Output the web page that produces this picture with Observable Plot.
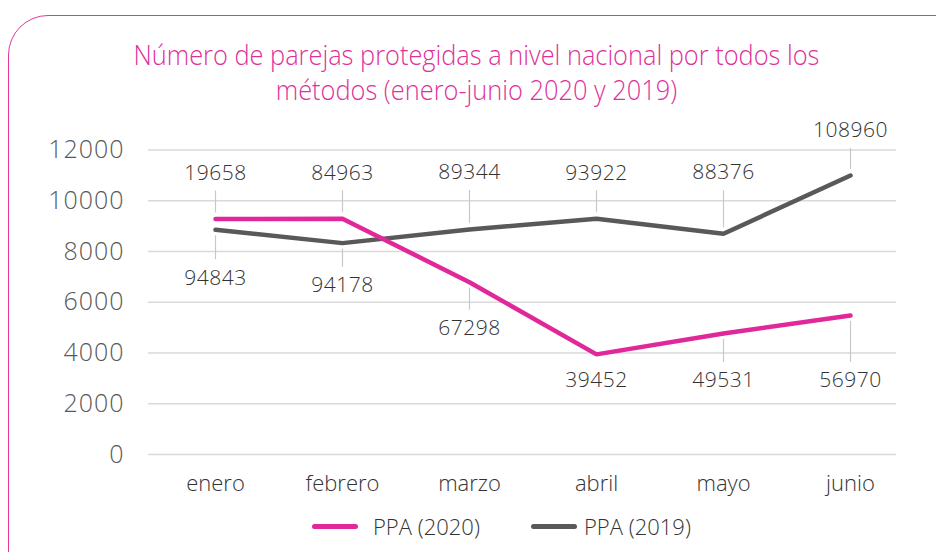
<!DOCTYPE html>
<html>
<head>
<meta charset="utf-8">
<script src="https://cdn.jsdelivr.net/npm/d3@7"></script>
<script src="https://cdn.jsdelivr.net/npm/@observablehq/plot@0.6"></script>
<style>
  html, body { margin: 0; padding: 0; background: #fff; }
  #page { position: relative; width: 936px; height: 552px; overflow: hidden; font-family: "Open Sans", sans-serif; }
  #frame { position: absolute; left: 8px; top: 15px; width: 980px; height: 580px; border: 1.5px solid #e2369c; border-radius: 40px; box-sizing: border-box; }
  #title { position: absolute; left: 8px; top: 37px; width: 936px; text-align: center; color: #e0309a; font-size: 28px; line-height: 35px; font-weight: 300; }
  #title span { display: inline-block; white-space: nowrap; transform-origin: 50% 50%; }
  #chart { position: absolute; left: 0; top: 110px; }
  .leg { position: absolute; top: 511px; font-size: 22px; color: #333333; line-height: 30px; font-weight: 300; }
  .sw { position: absolute; height: 5px; border-radius: 3px; top: 524px; }
  #chart svg text { font-weight: 300; }
  #chart g[aria-label="y-axis tick label"] text { letter-spacing: 1px; }
  #chart g[aria-label="text"] text { letter-spacing: 0.5px; }
</style>
</head>
<body>
<div id="page">
  <div id="frame"></div>
  <div id="title"><span id="t1">Número de parejas protegidas a nivel nacional por todos los</span><br><span id="t2">métodos (enero-junio 2020 y 2019)</span></div>
  <div id="chart"></div>
  <div class="sw" style="left:312px;width:46px;background:#e0289a"></div>
  <div class="leg" id="leg2020" style="left:373px">PPA (2020)</div>
  <div class="sw" style="left:531px;width:46px;background:#595959"></div>
  <div class="leg" id="leg2019" style="left:584px">PPA (2019)</div>
</div>
<script>
// ---- data ----
const months = ["enero", "febrero", "marzo", "abril", "mayo", "junio"];
const ppa2020 = [9280, 9290, 6790, 3945, 4770, 5480];
const ppa2019 = [8855, 8330, 8870, 9290, 8700, 10995];
const labels2020 = ["19658", "84963", "67298", "39452", "49531", "56970"];
const labels2019 = ["94843", "94178", "89344", "93922", "88376", "108960"];
const yTicks = [0, 2000, 4000, 6000, 8000, 10000, 12000];
const seriesNames = ["PPA (2020)", "PPA (2019)"];

// ---- layout / style ----
const W = 936, H = 400;
const M = {top: 39.5, right: 40, bottom: 56, left: 148};
const pink = "#e0289a", dark = "#595959";
// pixel offset of each data label from its point (negative = above)
const off2020 = [-46, -46, 46, 26, 47, 65];
const off2019 = [48, 42, -57, -46, -61, -45];

// condense the title to the reference's width
const t1 = document.getElementById("t1"), t2 = document.getElementById("t2");
const k = 686 / t1.getBoundingClientRect().width;
t1.style.transform = `scaleX(${k})`;
t2.style.transform = `scaleX(${k})`;

const yS = Plot.scale({y: {domain: [0, 12000], range: [H - M.bottom, M.top]}});
const shift = (v, px) => yS.invert(yS.apply(v) + px);

const rows2020 = months.map((m, i) => ({month: m, value: ppa2020[i], label: labels2020[i], off: off2020[i]}));
const rows2019 = months.map((m, i) => ({month: m, value: ppa2019[i], label: labels2019[i], off: off2019[i]}));
const allRows = [...rows2020, ...rows2019];

const leaders = allRows
  .filter(d => Math.abs(d.off) > 30)
  .map(d => {
    const s = Math.sign(d.off);
    return {month: d.month, y1: shift(d.value, s * 6), y2: shift(d.value, d.off - s * 18)};
  });

const chart = Plot.plot({
  width: W,
  height: H,
  marginTop: M.top, marginRight: M.right, marginBottom: M.bottom, marginLeft: M.left,
  style: {fontFamily: "'Open Sans', sans-serif", color: "#595959", background: "transparent", overflow: "visible"},
  x: {type: "point", domain: months, padding: 0, insetLeft: 65, insetRight: 44},
  y: {domain: [0, 12000]},
  marks: [
    Plot.gridY(yTicks, {stroke: "#d9d9d9", strokeOpacity: 1, strokeWidth: 1.4}),
    Plot.axisY(yTicks, {tickSize: 0, tickPadding: 24, tickFormat: d3.format("d"), fontSize: 25, fill: "#595959", label: null}),
    Plot.axisX({tickSize: 0, tickPadding: 21, fontSize: 22, fill: "#333333", label: null}),
    Plot.ruleX(leaders, {x: "month", y1: "y1", y2: "y2", stroke: "#c8c8c8", strokeWidth: 1.2}),
    Plot.line(rows2019, {x: "month", y: "value", stroke: dark, strokeWidth: 4.5, strokeLinecap: "round", strokeLinejoin: "miter"}),
    Plot.line(rows2020, {x: "month", y: "value", stroke: pink, strokeWidth: 4.5, strokeLinecap: "round", strokeLinejoin: "miter"}),
    Plot.text(allRows, {x: "month", y: d => shift(d.value, d.off), text: "label", fontSize: 21, fill: "#333333"})
  ]
});
document.getElementById("chart").appendChild(chart);
document.getElementById("leg2020").textContent = seriesNames[0];
document.getElementById("leg2019").textContent = seriesNames[1];
</script>
</body>
</html>
